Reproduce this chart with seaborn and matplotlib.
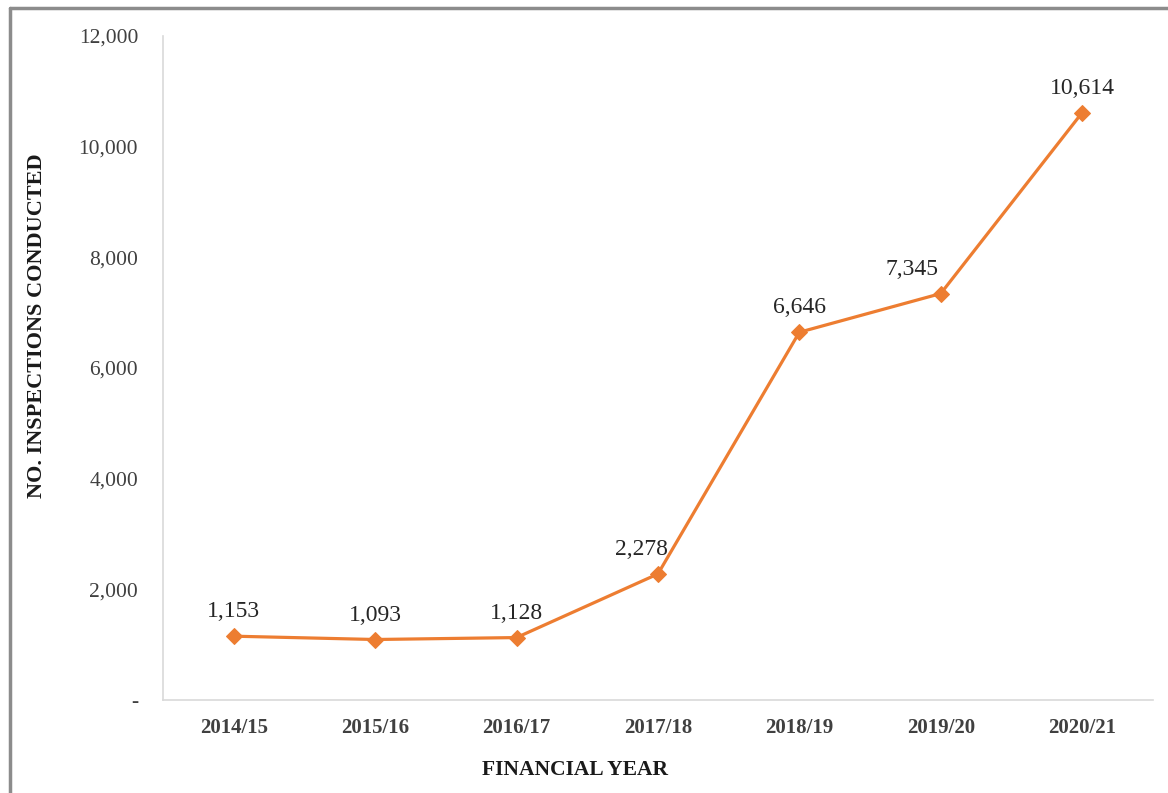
import matplotlib
matplotlib.use('Agg')
import matplotlib.pyplot as plt
import seaborn as sns
import pandas as pd
from matplotlib.lines import Line2D
from matplotlib.ticker import FuncFormatter

# --- dados ---
anos = ['2014/15', '2015/16', '2016/17', '2017/18', '2018/19', '2019/20', '2020/21']
inspecoes = [1153, 1093, 1128, 2278, 6646, 7345, 10614]
yticks = [0, 2000, 4000, 6000, 8000, 10000, 12000]

df = pd.DataFrame({'Ano': anos, 'Inspecoes': inspecoes})

sns.set_style('white')
plt.rcParams['font.family'] = ['Liberation Serif', 'DejaVu Serif']

fig = plt.figure(figsize=(11.68, 7.93), dpi=100)
ax = fig.add_axes([0.1396, 0.1173, 0.8474, 0.8373])

laranja = '#ED7D31'
sns.lineplot(data=df, x='Ano', y='Inspecoes', ax=ax, color=laranja, linewidth=2.3,
             marker='D', markersize=8, markeredgecolor=laranja, sort=False)

# rótulos dos pontos
desloc = {3: -12, 5: -21}
for i, v in enumerate(inspecoes):
    ax.annotate(f'{v:,}', (i, v), xytext=(desloc.get(i, 0), 10), textcoords='offset points',
                ha='center', va='bottom', fontsize=17, color='#262626')

ax.set_xlim(-0.5, len(anos) - 0.5)
ax.set_ylim(0, 12000)
ax.set_yticks(yticks)
ax.yaxis.set_major_formatter(FuncFormatter(lambda v, p: '-' if v == 0 else f'{int(v):,}'))

ax.tick_params(axis='y', labelsize=15.5, labelcolor='#404040', length=4, color='#d9d9d9',
               direction='inout', pad=16)
ax.tick_params(axis='x', labelsize=15, labelcolor='#404040', length=0, pad=13)
for lab in ax.get_xticklabels():
    lab.set_fontweight('semibold')

for s in ['top', 'right']:
    ax.spines[s].set_visible(False)
for s in ['left', 'bottom']:
    ax.spines[s].set_color('#d9d9d9')
    ax.spines[s].set_linewidth(1.2)

ax.set_xlabel('FINANCIAL YEAR', fontsize=15.5, fontweight='bold', color='#1a1a1a')
ax.set_ylabel('NO. INSPECTIONS CONDUCTED', fontsize=16, fontweight='bold', color='#1a1a1a')
ax.xaxis.set_label_coords(0.416, -0.09)
ax.yaxis.set_label_coords(-0.117, 0.563)

# moldura cinza (topo e esquerda)
fig.add_artist(Line2D([10 / 1168, 10 / 1168], [0, 1 - 8 / 793], color='#8c8c8c', linewidth=2.5))
fig.add_artist(Line2D([10 / 1168, 1], [1 - 8 / 793, 1 - 8 / 793], color='#8c8c8c', linewidth=2.5))

plt.savefig('out.png', dpi=100)
